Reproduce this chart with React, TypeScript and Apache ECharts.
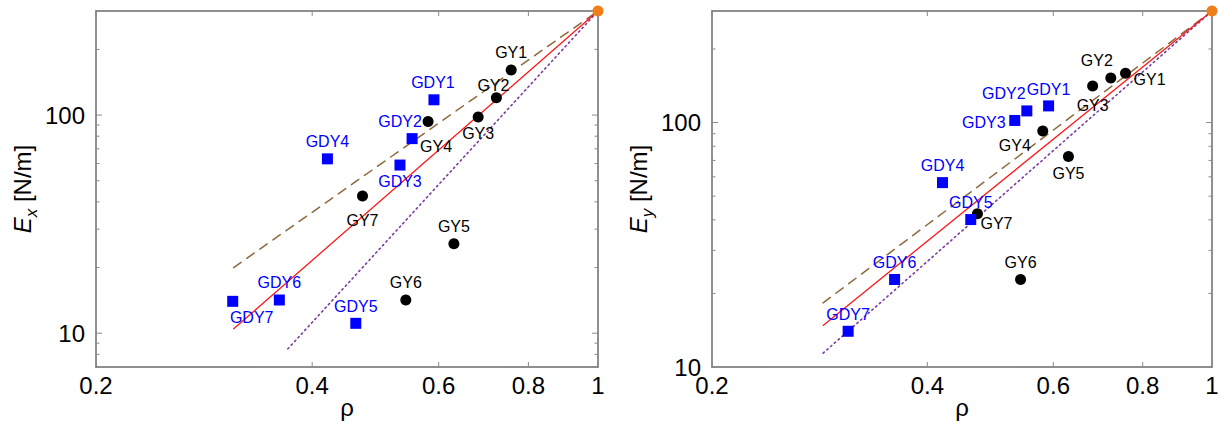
import React, { useEffect, useRef } from 'react';
import * as echarts from 'echarts';

// ---------- data ----------
const GY_NAMES = ['GY1', 'GY2', 'GY3', 'GY4', 'GY5', 'GY6', 'GY7'];
const GDY_NAMES = ['GDY1', 'GDY2', 'GDY3', 'GDY4', 'GDY5', 'GDY6', 'GDY7'];
const GY_RHO = [0.757, 0.722, 0.681, 0.58, 0.63, 0.54, 0.47];
const GDY_RHO = [0.591, 0.551, 0.53, 0.42, 0.46, 0.36, 0.31];
const GY_EX = [161, 120, 98, 93.5, 25.7, 14.2, 42.6];
const GDY_EX = [117.5, 78, 59, 63, 11.1, 14.2, 14.0];
const GY_EY = [159, 152, 141, 92.4, 72.6, 22.8, 42.4];
const GDY_EY = [117, 111.6, 102, 56.8, 40.1, 22.8, 14.0];
const GRAPHENE_RHO = 1;
const GRAPHENE_EX = 300;
const GRAPHENE_EY = 286;
// power-law guide lines (start point, end point at graphene)
const FIT_EX_SOLID = [[0.311, 10.47], [1, 300]];
const FIT_EX_DASHED = [[0.311, 20.0], [1, 300]];
const FIT_EX_DOTTED = [[0.37, 8.48], [1, 300]];
const FIT_EY_SOLID = [[0.286, 14.8], [1, 286]];
const FIT_EY_DASHED = [[0.286, 18.3], [1, 286]];
const FIT_EY_DOTTED = [[0.286, 11.4], [1, 286]];
// axes
const X_MIN = 0.2;
const X_MAX = 1;
const X_TICKS = [0.2, 0.4, 0.6, 0.8, 1];
const X_TICK_LABELS = ['0.2', '0.4', '0.6', '0.8', '1'];
const Y_MIN_EX = 7;
const Y_MAX_EX = 300;
const Y_MIN_EY = 10;
const Y_MAX_EY = 286;
const Y_TICKS_EX = [8, 9, 10, 20, 30, 40, 50, 60, 70, 80, 90, 100, 200];
const Y_TICKS_EY = [10, 20, 30, 40, 50, 60, 70, 80, 90, 100, 200];
const Y_LABELED = [10, 100];

// ---------- label placement (styling) ----------
const LABEL_OFFSETS_EX: Record<string, number[]> = {
  GY1: [0, -17], GY2: [-3, -12], GY3: [0, 17], GY4: [8, 25], GY5: [0, -17], GY6: [0, -17], GY7: [0, 25],
  GDY1: [-1, -17], GDY2: [-12, -17], GDY3: [0, 16], GDY4: [0, -17], GDY5: [0, -17], GDY6: [0, -17], GDY7: [19, 16],
};
const LABEL_OFFSETS_EY: Record<string, number[]> = {
  GY1: [24, 6], GY2: [-14, -18], GY3: [0, 19], GY4: [-28, 15], GY5: [0, 17], GY6: [0, -17], GY7: [19, 10],
  GDY1: [0, -16], GDY2: [-23, -17], GDY3: [-31, 2], GDY4: [0, -17], GDY5: [0, -17], GDY6: [0, -17], GDY7: [0, -17],
};

const FONT = '"Liberation Sans", Arial, Helvetica, sans-serif';
const FRAME = '#6b6b6b';
const TICK = '#8a8a8a';
const BLUE = '#0000ff';
const ORANGE = '#ee7f1a';
const RED = '#ff1a1a';
const BROWN = '#8b6a3c';
const PURPLE = '#7d3a9e';

const isMajorY = (v: number) => Y_LABELED.some((m) => Math.abs(m - v) < 1e-6);

function buildPanel(p: number, cfg: any) {
  const xb = 2 * p;
  const yl = 2 * p;
  const grid = { left: cfg.left, top: 11, width: cfg.width, height: 356 };
  const lineAxis = { show: true, onZero: false, lineStyle: { color: FRAME, width: 1.5 } };
  const xAxes = [
    {
      type: 'log', logBase: 10, gridIndex: p, position: 'bottom', min: X_MIN, max: X_MAX,
      axisLine: lineAxis, axisTick: { show: false }, axisLabel: { show: false }, splitLine: { show: false },
      name: 'ρ', nameLocation: 'middle', nameGap: 28,
      nameTextStyle: { fontFamily: FONT, fontSize: 24, color: '#000' },
    },
    {
      type: 'log', logBase: 10, gridIndex: p, position: 'top', min: X_MIN, max: X_MAX,
      axisLine: lineAxis, axisTick: { show: false }, axisLabel: { show: false }, splitLine: { show: false },
    },
  ];
  const yAxes = [
    {
      type: 'log', logBase: 10, gridIndex: p, position: 'left', min: cfg.yMin, max: cfg.yMax,
      axisLine: lineAxis, axisTick: { show: false }, splitLine: { show: false },
      axisLabel: {
        show: true, margin: 11, fontFamily: FONT, fontSize: 24, color: '#000',
        showMinLabel: true, showMaxLabel: false,
        formatter: (v: number) => (isMajorY(v) ? String(Math.round(v)) : ''),
      },
      name: `{e|E}{s|${cfg.sub}} {u|[N/m]}`, nameLocation: 'middle', nameGap: 56, nameRotate: 90,
      nameTextStyle: {
        fontFamily: FONT, fontSize: 24, color: '#000',
        rich: {
          e: { fontFamily: FONT, fontSize: 24, fontStyle: 'italic', color: '#000', padding: [0, 0, 6, 0] },
          s: { fontFamily: FONT, fontSize: 17, fontStyle: 'italic', color: '#000', verticalAlign: 'bottom' },
          u: { fontFamily: FONT, fontSize: 24, color: '#000', padding: [0, 0, 6, 0] },
        },
      },
    },
    {
      type: 'log', logBase: 10, gridIndex: p, position: 'right', min: cfg.yMin, max: cfg.yMax,
      axisLine: lineAxis, axisTick: { show: false }, axisLabel: { show: false }, splitLine: { show: false },
    },
  ];

  const yMin = cfg.yMin;
  const yMax = cfg.yMax;
  const base = { xAxisIndex: xb, yAxisIndex: yl };

  const fit = (data: number[][], color: string, type: any, width: number) => ({
    ...base, type: 'line', data, symbol: 'none', showSymbol: false, silent: true, z: 2,
    lineStyle: { color, width, type, cap: 'round', opacity: 1 },
  });

  const scatterData = (names: string[], rho: number[], vals: number[]) =>
    names.map((n, i) => ({ name: n, value: [rho[i], vals[i]], label: { offset: cfg.offsets[n] } }));

  const series: any[] = [
    fit(cfg.fitDashed, BROWN, [9, 7], 1.5),
    fit(cfg.fitDotted, PURPLE, [1.5, 3.5], 1.6),
    fit(cfg.fitSolid, RED, 'solid', 1.3),
    {
      ...base, type: 'scatter', symbol: 'circle', symbolSize: 11, z: 4,
      itemStyle: { color: '#000', opacity: 1 },
      label: { show: true, position: 'inside', formatter: '{b}', color: '#000', fontFamily: FONT, fontSize: 16 },
      data: scatterData(GY_NAMES, GY_RHO, cfg.gy),
    },
    {
      ...base, type: 'scatter', symbol: 'rect', symbolSize: 11, z: 4,
      itemStyle: { color: BLUE, opacity: 1 },
      label: { show: true, position: 'inside', formatter: '{b}', color: BLUE, fontFamily: FONT, fontSize: 16 },
      data: scatterData(GDY_NAMES, GDY_RHO, cfg.gdy),
    },
    {
      ...base, type: 'scatter', symbol: 'circle', symbolSize: 11, z: 5, clip: false,
      itemStyle: { color: ORANGE, opacity: 1 },
      data: [[GRAPHENE_RHO, cfg.graphene]],
    },
    // y ticks, mirrored on both sides
    {
      ...base, type: 'custom', silent: true, z: 3, clip: false,
      data: cfg.yTicks.map((v: number) => [X_MIN, v]),
      renderItem: (params: any, api: any) => {
        const v = api.value(1);
        const l = api.coord([X_MIN, v]);
        const r = api.coord([X_MAX, v]);
        const len = isMajorY(v) ? 6 : 3.5;
        return {
          type: 'group',
          children: [
            { type: 'line', shape: { x1: l[0], y1: l[1], x2: l[0] + len, y2: l[1] }, style: { stroke: TICK, lineWidth: 1 } },
            { type: 'line', shape: { x1: r[0], y1: r[1], x2: r[0] - len, y2: r[1] }, style: { stroke: TICK, lineWidth: 1 } },
          ],
        };
      },
    },
    // x ticks (bottom and top) and x tick labels
    {
      ...base, type: 'custom', silent: true, z: 3, clip: false,
      data: X_TICKS.map((v, i) => [v, yMin, i]),
      renderItem: (params: any, api: any) => {
        const v = api.value(0);
        const i = api.value(2);
        const b = api.coord([v, yMin]);
        const t = api.coord([v, yMax]);
        const len = 5;
        return {
          type: 'group',
          children: [
            { type: 'line', shape: { x1: b[0], y1: b[1], x2: b[0], y2: b[1] - len }, style: { stroke: TICK, lineWidth: 1 } },
            { type: 'line', shape: { x1: t[0], y1: t[1], x2: t[0], y2: t[1] + len }, style: { stroke: TICK, lineWidth: 1 } },
            {
              type: 'text', x: b[0], y: b[1] + 6,
              style: {
                text: X_TICK_LABELS[i], fill: '#000', fontFamily: FONT, fontSize: 24,
                align: 'center', verticalAlign: 'top', textAlign: 'center', textVerticalAlign: 'top',
              },
            },
          ],
        };
      },
    },
  ];
  return { grid, xAxes, yAxes, series };
}

export default function App() {
  const ref = useRef<HTMLDivElement>(null);
  useEffect(() => {
    if (!ref.current) return;
    const chart = echarts.init(ref.current, undefined, { renderer: 'svg' });
    const p0 = buildPanel(0, {
      left: 96, width: 502, yMin: Y_MIN_EX, yMax: Y_MAX_EX, sub: 'x',
      gy: GY_EX, gdy: GDY_EX, graphene: GRAPHENE_EX, yTicks: Y_TICKS_EX, offsets: LABEL_OFFSETS_EX,
      fitSolid: FIT_EX_SOLID, fitDashed: FIT_EX_DASHED, fitDotted: FIT_EX_DOTTED,
    });
    const p1 = buildPanel(1, {
      left: 712, width: 500, yMin: Y_MIN_EY, yMax: Y_MAX_EY, sub: 'y',
      gy: GY_EY, gdy: GDY_EY, graphene: GRAPHENE_EY, yTicks: Y_TICKS_EY, offsets: LABEL_OFFSETS_EY,
      fitSolid: FIT_EY_SOLID, fitDashed: FIT_EY_DASHED, fitDotted: FIT_EY_DOTTED,
    });
    chart.setOption({
      animation: false,
      backgroundColor: '#ffffff',
      grid: [p0.grid, p1.grid],
      xAxis: [...p0.xAxes, ...p1.xAxes],
      yAxis: [...p0.yAxes, ...p1.yAxes],
      series: [...p0.series, ...p1.series],
    });
    return () => chart.dispose();
  }, []);
  return (
    <div
      ref={ref}
      style={{ position: 'absolute', left: 0, top: 0, width: 1218, height: 427, background: '#fff' }}
    />
  );
}
